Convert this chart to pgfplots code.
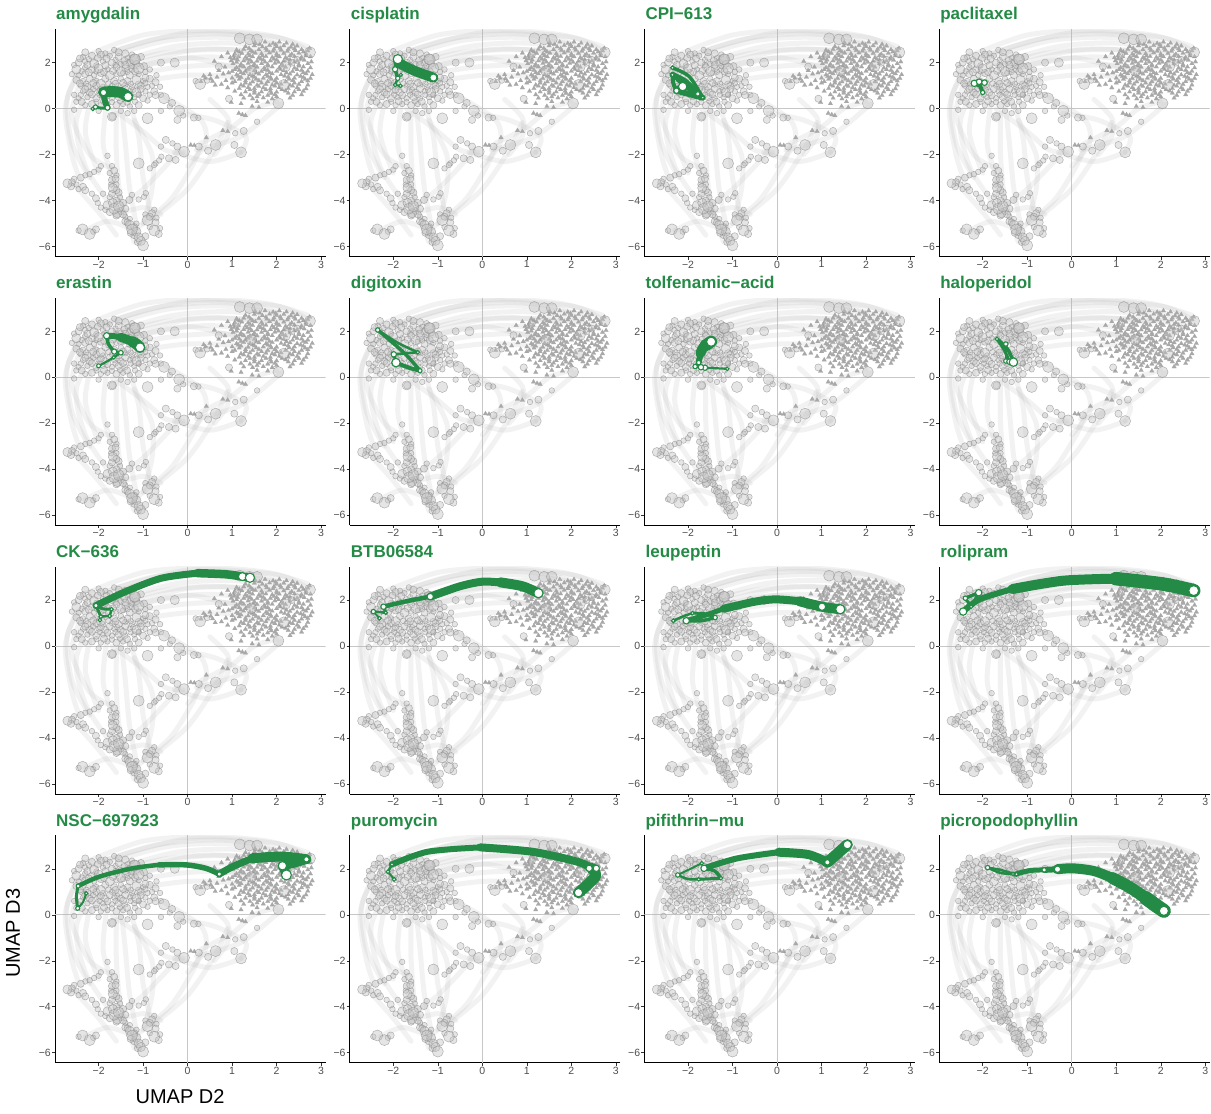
\documentclass[border=0pt]{standalone}
\usepackage{fontspec}
\setmainfont{Liberation Sans}
\usepackage{pgfplots}
\pgfplotsset{compat=1.18}
\usepackage{pgfplotstable}
\usepgfplotslibrary{groupplots}
\usetikzlibrary{calc}

\definecolor{grn}{RGB}{35,139,69}
\definecolor{ticktext}{RGB}{77,77,77}

% background cells: circles (x, y, radius)
\pgfplotstableread{
x y r
-2.35 2.25 3
-2.15 2.30 3.5
-1.95 2.35 4
-1.75 2.30 3
-1.55 2.25 3.5
-1.35 2.20 3
-1.20 2.15 5.5
-2.45 2.00 3.5
-2.30 2.05 3
-2.10 1.95 4.5
-1.90 2.05 3
-1.70 2.00 4
-1.50 1.95 3
-1.30 2.00 3.5
-1.15 1.95 4
-2.50 1.70 4.5
-2.30 1.80 3
-2.15 1.70 3.5
-2.00 1.75 5
-1.80 1.70 3
-1.60 1.80 3.5
-1.40 1.75 4
-1.25 1.70 3
-1.10 1.75 5.5
-2.45 1.45 3
-2.30 1.50 4
-2.10 1.45 3
-1.95 1.55 3.5
-1.75 1.45 4.5
-1.60 1.50 3
-1.45 1.55 3
-1.30 1.45 4
-1.10 1.50 3
-2.50 1.25 3.5
-2.35 1.20 3
-2.20 1.30 4
-2.05 1.20 3
-1.85 1.30 3.5
-1.65 1.20 4
-1.50 1.30 3
-1.35 1.20 3.5
-1.15 1.25 4.5
-1.00 1.20 3
-2.40 1.00 3
-2.25 0.95 3.5
-2.05 1.00 4
-1.90 0.95 3
-1.70 1.00 3
-1.55 0.95 4
-1.40 1.05 3
-1.25 0.95 3
-1.05 1.00 3.5
-0.90 0.95 3
-2.35 0.75 3
-2.20 0.70 3.5
-2.00 0.75 3
-1.85 0.70 4
-1.65 0.75 3
-1.50 0.70 3.5
-1.30 0.75 3
-1.15 0.70 4.5
-0.95 0.75 3
-2.45 0.45 3
-2.25 0.50 3
-2.05 0.45 3.5
-1.90 0.50 3
-1.70 0.45 3
-1.55 0.50 3.5
-1.40 0.45 3
-1.20 0.50 3
-1.00 0.45 3.5
-2.50 0.30 3
-2.30 0.15 3
-2.15 0.20 3.5
-1.95 0.15 3
-1.80 0.20 3
-1.60 0.15 3.5
-1.45 0.20 3
-1.30 0.10 3
-1.10 0.15 3.5
-2.55 -0.05 3
-2.00 -0.10 3
-1.70 -0.35 5
-1.50 -0.10 3
-1.35 -0.20 3
-1.20 -0.10 3
-2.30 2.45 4
-1.85 2.40 3
-1.40 2.40 3.5
-1.65 2.55 3
-1.05 2.25 3.5
-2.55 1.90 3
-2.60 1.50 3
-2.55 0.60 3
-0.95 1.60 3
-0.85 1.30 3.5
-0.80 1.00 3
-0.75 0.75 3.5
-0.60 0.60 3
-0.90 0.35 3
-2.42 2.18 3.5
-2.22 2.15 3
-2.02 2.20 3.5
-1.82 2.18 4
-1.62 2.12 3
-1.42 2.08 4
-2.38 1.62 3
-2.22 1.58 4
-2.05 1.62 3
-1.88 1.60 4
-1.68 1.64 3.5
-1.50 1.62 4.5
-1.35 1.60 3
-1.18 1.62 3.5
-2.42 1.10 4
-2.28 1.08 3
-2.12 1.12 3.5
-1.95 1.08 4.5
-1.78 1.10 3
-1.62 1.08 3.5
-1.45 1.12 4
-1.28 1.08 3
-1.10 1.05 4
-0.95 1.10 3
-2.30 0.85 4
-2.12 0.85 3
-1.95 0.82 3.5
-1.75 0.85 4
-1.58 0.82 3
-1.40 0.85 4
-1.22 0.82 3
-1.05 0.85 3.5
-2.40 0.60 3
-2.15 0.62 4
-1.98 0.60 3
-1.80 0.58 3.5
-1.62 0.60 3
-1.45 0.62 4
-1.28 0.60 3
-1.10 0.62 3
-2.38 0.30 3.5
-2.05 0.30 3
-1.88 0.32 4
-1.70 0.28 3
-1.52 0.32 3
-1.36 0.30 4
-1.18 0.30 3
-2.25 1.90 4
-2.05 1.88 3
-1.85 1.88 3.5
-1.62 1.90 3
-1.40 1.90 4
-1.25 1.85 3
-2.00 2.50 3
-1.55 2.45 3.5
-1.25 2.35 3
-0.98 1.85 3.5
-0.85 1.70 3
-0.70 1.45 3
-0.95 1.35 4
-0.72 1.15 3.5
-0.62 0.95 3
-0.85 0.60 3
-1.10 0.59 3
-0.90 -0.42 5.5
-0.72 0.59 3.5
-0.53 0.45 5.5
-0.40 0.10 3
-0.19 -0.09 5.5
-0.23 -0.49 4
-0.10 -0.30 3
-0.60 -0.10 3
-1.69 -0.35 4
-0.35 0.25 3.5
-1.18 2.14 5.5
-0.60 2.00 3.5
-0.29 2.00 4.5
0.28 1.07 5.5
0.18 1.20 3
0.44 1.22 3
1.17 3.06 5.5
1.39 3.01 5.5
1.56 3.01 5.5
2.75 2.45 5.5
2.19 1.83 5.5
1.43 1.64 5.5
2.16 1.03 5.5
2.04 0.23 5.5
2.34 2.00 4
0.70 1.83 4
1.11 2.33 4
2.46 2.12 4
0.93 0.43 3.5
1.56 -0.57 2.5
1.26 -0.97 4
1.07 -1.07 3
1.20 -1.90 5.5
1.05 -1.58 4
0.63 -1.58 5.5
0.46 -1.83 4
0.25 -1.65 4
0.14 -0.39 4
0.24 -0.40 3
-0.08 -1.87 5.5
-0.23 -1.65 4
-0.34 -1.51 3
-0.49 -1.36 4
-0.60 -1.65 3
-0.42 -2.16 4
-0.27 -2.23 4
-0.59 -2.09 3
-0.72 -2.38 3
-1.10 -2.38 5.5
-0.64 -2.25 3
-0.75 -2.45 3
-0.85 -2.60 3
-2.70 -3.25 5
-2.60 -3.20 4
-2.50 -3.30 3
-2.40 -3.00 3.5
-2.30 -2.90 3
-2.20 -2.85 3
-2.10 -2.75 3
-2.00 -2.65 3
-1.95 -2.50 3
-2.35 -3.40 3.5
-2.30 -3.55 3.5
-2.45 -3.50 3
-2.55 -3.05 3
-2.62 -3.38 3.5
-1.80 -2.05 2.5
-1.70 -2.50 3
-1.65 -2.70 3.5
-1.60 -2.90 3
-1.70 -3.10 3.5
-1.60 -3.30 3
-1.68 -3.45 5
-1.55 -3.65 3.5
-1.75 -3.85 3
-1.60 -4.00 4
-1.45 -4.10 3.5
-1.80 -4.20 5
-1.65 -4.35 5.5
-1.50 -4.45 4
-1.75 -4.50 4
-1.60 -4.65 3.5
-1.40 -4.70 3
-1.85 -4.40 3
-1.55 -4.25 6
-1.75 -2.80 3
-1.62 -3.05 4
-1.72 -3.30 3
-1.60 -3.55 4
-1.70 -3.70 3.5
-1.52 -3.85 3
-1.68 -4.10 4.5
-1.40 -4.35 4
-1.58 -4.55 5
-1.45 -4.60 3.5
-1.90 -3.70 3
-2.15 -3.70 3
-2.06 -3.90 4
-2.02 -4.10 3
-1.95 -4.30 3
-1.40 -4.90 4
-1.30 -5.05 4.5
-1.25 -5.25 5.5
-1.15 -5.35 5
-1.20 -5.50 4
-1.10 -5.60 5
-1.05 -5.75 4.5
-1.00 -5.95 6
-1.30 -4.80 3
-1.15 -5.00 3
-1.35 -4.95 3.5
-1.20 -5.15 4
-1.28 -5.40 4
-1.12 -5.80 3.5
-0.95 -5.55 4
-0.80 -4.55 4
-0.75 -4.40 3
-0.90 -4.85 5.5
-0.75 -5.30 5.5
-0.65 -5.45 3.5
-0.85 -5.15 3
-0.95 -4.60 3
-0.70 -4.75 3
-0.85 -4.70 3.5
-0.72 -4.95 4
-0.62 -5.20 3
-2.36 -5.25 5.5
-2.20 -5.45 5.5
-2.06 -5.25 3.5
-2.45 -5.30 3
-2.12 -5.35 3
-1.10 -3.95 3
-0.98 -3.83 2.5
-1.31 -3.97 3.5
-1.25 -3.75 3
-0.94 -3.68 3
}\bgcirc

% background cells: triangles (x, y)
\pgfplotstableread{
x y
1.52 2.86
1.74 2.90
1.92 2.84
2.06 2.90
2.22 2.85
1.30 2.70
1.50 2.74
1.68 2.69
1.84 2.75
2.00 2.70
2.16 2.74
2.32 2.68
2.46 2.73
1.10 2.55
1.26 2.58
1.42 2.53
1.60 2.57
1.78 2.54
1.94 2.59
2.10 2.55
2.26 2.58
2.42 2.53
2.56 2.57
2.70 2.52
0.90 2.42
1.06 2.38
1.22 2.41
1.36 2.37
1.52 2.42
1.66 2.39
1.84 2.43
2.00 2.38
2.16 2.41
2.34 2.37
2.50 2.42
2.66 2.38
0.76 2.26
0.96 2.22
1.14 2.27
1.30 2.23
1.46 2.26
1.60 2.22
1.76 2.27
1.90 2.23
2.06 2.26
2.20 2.22
2.40 2.27
2.56 2.23
2.76 2.26
0.60 2.06
0.98 2.08
1.12 2.12
1.26 2.08
1.40 2.11
1.56 2.07
1.70 2.12
1.86 2.08
2.00 2.11
2.16 2.07
2.30 2.12
2.46 2.08
2.62 2.11
1.02 1.96
1.20 1.93
1.36 1.97
1.50 1.93
1.66 1.96
1.80 1.92
1.96 1.97
2.12 1.93
2.30 1.96
2.50 1.92
2.70 1.96
0.84 1.81
1.10 1.78
1.26 1.82
1.40 1.78
1.56 1.81
1.72 1.77
1.90 1.82
2.06 1.78
2.20 1.81
2.40 1.77
2.60 1.82
2.76 1.78
0.70 1.66
1.00 1.62
1.16 1.67
1.30 1.63
1.50 1.66
1.66 1.62
1.80 1.67
2.00 1.63
2.16 1.66
2.36 1.62
2.56 1.67
2.70 1.63
0.50 1.48
0.80 1.51
1.10 1.47
1.26 1.52
1.40 1.48
1.60 1.51
1.76 1.47
1.90 1.52
2.10 1.48
2.30 1.51
2.46 1.47
2.66 1.52
2.80 1.48
0.40 1.33
0.66 1.37
1.00 1.33
1.20 1.36
1.36 1.32
1.50 1.37
1.70 1.33
1.86 1.36
2.00 1.32
2.26 1.37
2.40 1.33
2.60 1.36
2.76 1.32
0.30 1.18
0.56 1.19
0.86 1.22
1.06 1.18
1.30 1.21
1.46 1.17
1.60 1.22
1.80 1.18
1.96 1.21
2.20 1.17
2.36 1.22
2.56 1.18
2.70 1.21
0.76 1.06
1.00 1.12
1.20 1.03
1.40 1.07
1.56 1.02
1.76 1.06
1.90 1.03
2.10 1.07
2.30 1.02
2.50 1.06
2.70 1.03
0.90 0.91
1.16 0.88
1.36 0.92
1.50 0.88
1.70 0.91
1.86 0.87
2.06 0.92
2.26 0.88
2.46 0.91
2.66 0.87
1.06 0.76
1.30 0.73
1.50 0.77
1.66 0.73
1.86 0.76
2.00 0.72
2.20 0.77
2.40 0.73
2.60 0.76
1.20 0.61
1.40 0.58
1.60 0.62
1.80 0.58
1.96 0.61
2.36 0.58
2.56 0.61
1.26 0.46
1.46 0.43
1.70 0.47
1.90 0.43
2.30 0.46
0.98 0.27
1.20 0.22
1.56 0.31
1.80 0.28
1.45 0.10
1.60 0.05
1.15 -0.20
1.23 -0.26
1.30 -0.30
0.79 -0.95
0.90 -0.99
0.42 -1.26
0.07 -1.58
0.15 -1.60
1.62 2.80
1.98 2.78
2.36 2.80
2.74 2.62
1.38 2.62
1.76 2.62
2.08 2.63
2.40 2.61
1.16 2.47
1.46 2.46
1.92 2.50
2.24 2.50
2.60 2.47
1.04 2.30
1.40 2.31
1.68 2.30
2.00 2.30
2.30 2.30
2.66 2.30
1.04 2.17
1.34 2.16
1.64 2.16
1.94 2.16
2.24 2.15
2.54 2.16
1.10 2.02
1.44 2.03
1.74 2.03
2.04 2.02
2.40 2.03
2.78 2.04
1.18 1.86
1.48 1.86
1.80 1.86
2.14 1.86
2.50 1.86
1.06 1.70
1.36 1.71
1.74 1.70
2.08 1.71
2.46 1.70
0.92 1.56
1.20 1.57
1.54 1.57
1.84 1.57
2.22 1.56
2.60 1.57
1.14 1.41
1.46 1.42
1.80 1.41
2.18 1.42
2.54 1.41
1.16 1.28
1.54 1.29
1.88 1.29
2.28 1.29
2.64 1.28
1.30 1.12
1.66 1.12
2.00 1.12
2.40 1.12
1.26 0.98
1.60 0.97
1.96 0.98
2.36 0.98
1.40 0.83
1.76 0.83
2.12 0.83
2.50 0.83
1.50 0.68
1.88 0.67
2.26 0.68
1.56 0.52
2.00 0.52
0.36 1.42
0.52 1.30
0.62 1.02
}\bgtri

\pgfplotsset{
  zl/.style={draw=black!22, line width=0.8pt, no markers},
  arc/.style={draw=black!30, line width=5pt, draw opacity=0.17, smooth, no markers, line cap=round},
  tri/.style={only marks, mark=triangle*, mark size=2.6pt, color=black!34, line width=0.2pt},
  bub/.style={only marks, mark=*, draw=black!45, fill=black!24,
    fill opacity=0.42, draw opacity=0.65, line width=0.5pt},
  g/.style={draw=grn, no markers, smooth, line cap=round, line join=round},
  wc/.style={scatter, only marks, mark=*,
    scatter/use mapped color={draw=grn, fill=white},
    line width=1.1pt,
    visualization depends on={\thisrow{r} \as \rr},
    scatter/@pre marker code/.append style={/tikz/mark size=\rr}},
}

% shared backdrop of every panel
\newcommand{\bgpanel}{%
  \addplot[zl] coordinates {(-2.98,0) (3.1,0)};
  \addplot[zl] coordinates {(0,-6.43) (0,3.45)};
  \addplot[arc] coordinates {(-2.2,2.1) (-0.8,3.0) (0.5,3.25) (1.5,3.1) (2.4,2.6)};
  \addplot[arc] coordinates {(-1.9,2.2) (-0.5,2.95) (0.8,3.1) (2.0,2.8)};
  \addplot[arc] coordinates {(-1.6,2.0) (-0.3,2.7) (1.0,2.85) (2.2,2.5)};
  \addplot[arc] coordinates {(-1.3,1.9) (0.0,2.5) (1.2,2.55) (2.6,2.3)};
  \addplot[arc] coordinates {(-1.2,1.5) (-0.2,1.8) (0.8,1.9) (1.8,1.7)};
  \addplot[arc] coordinates {(-1.0,1.2) (0.0,1.45) (1.0,1.4) (2.0,1.1)};
  \addplot[arc] coordinates {(-2.4,2.2) (-1.0,3.2) (0.5,3.4) (1.8,3.2) (2.7,2.7)};
  \addplot[arc] coordinates {(-1.8,1.8) (-0.6,2.4) (0.6,2.6) (1.8,2.4)};
  \addplot[arc] coordinates {(-1.5,1.6) (-0.5,2.1) (0.5,2.25) (1.4,2.1)};
  \addplot[arc] coordinates {(-2.3,1.8) (-2.7,0.5) (-2.6,-1.5) (-2.2,-3.0)};
  \addplot[arc] coordinates {(-2.0,1.5) (-2.5,-0.5) (-2.3,-2.5) (-1.8,-4.0)};
  \addplot[arc] coordinates {(-2.5,1.5) (-2.75,0.0) (-2.6,-2.0) (-2.4,-3.2)};
  \addplot[arc] coordinates {(-2.1,1.0) (-2.3,-1.0) (-2.0,-2.8)};
  \addplot[arc] coordinates {(-1.8,0.5) (-1.9,-1.5) (-1.7,-3.0) (-1.6,-4.5)};
  \addplot[arc] coordinates {(-1.5,0.3) (-1.4,-1.5) (-1.3,-3.5) (-1.1,-5.5)};
  \addplot[arc] coordinates {(-1.3,0.2) (-1.1,-1.2) (-1.0,-3.0) (-0.8,-4.8)};
  \addplot[arc] coordinates {(-1.6,-0.2) (-1.6,-2.0) (-1.5,-4.0) (-1.2,-5.8)};
  \addplot[arc] coordinates {(-1.2,-0.5) (-0.8,-2.0) (-0.8,-3.5) (-1.0,-5.0)};
  \addplot[arc] coordinates {(-1.6,-4.4) (-1.0,-3.5) (-0.4,-2.3) (-0.2,-1.8)};
  \addplot[arc] coordinates {(-1.2,-5.3) (-0.4,-4.0) (0.1,-2.5) (0.3,-1.6)};
  \addplot[arc] coordinates {(-0.8,-4.8) (0.0,-3.5) (0.6,-1.8) (0.9,-0.6)};
  \addplot[arc] coordinates {(-0.3,-1.9) (0.5,-2.3) (1.2,-1.9)};
  \addplot[arc] coordinates {(0.3,-1.5) (1.0,-0.8) (1.5,0.0) (2.0,0.3)};
  \addplot[arc] coordinates {(-0.2,-0.2) (0.6,-0.5) (1.3,-1.2) (1.2,-1.9)};
  \addplot[arc] coordinates {(-0.5,0.5) (0.3,-0.5) (0.4,-1.5) (0.0,-2.5)};
  \addplot[arc] coordinates {(0.5,0.4) (0.9,-0.4) (0.9,-1.2) (0.6,-2.0)};
  \addplot[arc] coordinates {(-2.6,-3.2) (-2.0,-4.5) (-1.6,-5.5)};
  \addplot[arc] coordinates {(-2.3,-5.3) (-1.8,-4.9) (-1.3,-5.2)};
  \addplot[arc] coordinates {(-1.1,1.8) (0.0,2.2) (0.8,1.9) (1.5,1.6)};
  \addplot[arc] coordinates {(-2.4,1.2) (-2.6,-0.3) (-2.2,-2.0) (-1.7,-2.6)};
  \addplot[arc] coordinates {(-1.7,0.0) (-1.0,-1.0) (-0.5,-1.8) (-0.1,-1.9)};
  \addplot[arc] coordinates {(-2.0,2.3) (0.0,3.3) (2.0,3.1) (2.7,2.5)};
  \addplot[arc] coordinates {(0.2,-1.8) (1.2,-1.2) (2.1,0.2)};
  \addplot[arc] coordinates {(-1.6,-4.6) (-1.0,-4.3) (-0.6,-4.6)};
  \addplot[tri] table[x=x,y=y] {\bgtri};
  \addplot[bub, mark size=2.8pt, restrict expr to domain={\thisrow{r}}{0:3.2}] table[x=x,y=y] {\bgcirc};
  \addplot[bub, mark size=3.6pt, restrict expr to domain={\thisrow{r}}{3.3:4.2}] table[x=x,y=y] {\bgcirc};
  \addplot[bub, mark size=4.6pt, restrict expr to domain={\thisrow{r}}{4.3:5.2}] table[x=x,y=y] {\bgcirc};
  \addplot[bub, mark size=5.5pt, restrict expr to domain={\thisrow{r}}{5.3:7}] table[x=x,y=y] {\bgcirc};
}

\begin{document}
\begin{tikzpicture}
\begin{groupplot}[
  group style={group size=4 by 4, horizontal sep=24.1pt, vertical sep=41.5pt},
  width=270.6pt, height=227.2pt, scale only axis,
  xmin=-2.98, xmax=3.1, ymin=-6.43, ymax=3.45,
  axis x line*=bottom, axis y line*=left,
  axis line style={-, black, line width=0.6pt},
  xtick={-2,-1,0,1,2,3}, xticklabels={−2,−1,0,1,2,3},
  ytick={-6,-4,-2,0,2}, yticklabels={−6,−4,−2,0,2},
  tick align=outside, major tick length=3pt,
  tick style={black!80, line width=0.5pt},
  ticklabel style={font=\fontsize{10.5}{12}\selectfont, text=ticktext, inner sep=1pt},
  every axis title/.style={at={(0,1)}, anchor=base west, yshift=9.3pt, xshift=1pt, inner sep=0pt,
    font=\fontsize{17}{20}\selectfont\bfseries, text=grn},
  clip mode=individual,
]
% ---------------- row 1
\nextgroupplot[title={amygdalin}]
\coordinate (TL) at (rel axis cs:0,1);
\bgpanel
\addplot[g, line width=2.5pt] coordinates {(-2.13,-0.01) (-2.07,0.07)};
\addplot[g, line width=3pt] coordinates {(-2.07,0.07) (-1.94,0.02) (-1.80,0.04)};
\addplot[g, line width=6pt] coordinates {(-1.80,0.04) (-1.86,0.35) (-1.89,0.70)};
\addplot[g, line width=11pt] coordinates {(-1.89,0.72) (-1.70,0.74) (-1.50,0.70) (-1.34,0.52)};
\addplot[wc] table[row sep=\\] {x y r\\ -2.13 -0.01 1.8\\ -2.07 0.07 2.1\\ -1.80 0.04 2.5\\ -1.89 0.70 3.2\\ -1.34 0.52 4.3\\};

\nextgroupplot[title={cisplatin}]
\bgpanel
\addplot[g, line width=2pt] coordinates {(-1.84,0.99) (-1.96,1.03)};
\addplot[g, line width=2.5pt] coordinates {(-1.96,1.03) (-1.90,1.32)};
\addplot[g, line width=3.5pt] coordinates {(-1.90,1.32) (-1.96,1.71)};
\addplot[g, line width=4.5pt] coordinates {(-1.96,1.71) (-1.90,2.15)};
\addplot[g, line width=10pt] coordinates {(-1.90,2.10) (-1.83,1.94) (-1.53,1.65) (-1.10,1.35)};
\addplot[wc] table[row sep=\\] {x y r\\ -1.84 0.99 1.8\\ -1.96 1.03 1.8\\ -1.83 1.47 1.6\\ -1.90 1.32 2.2\\ -1.96 1.71 2.6\\ -1.10 1.35 3.6\\ -1.90 2.15 4.6\\};

\nextgroupplot[title={CPI−613}]
\bgpanel
\addplot[g, line width=3.5pt] coordinates {(-2.35,1.78) (-1.97,1.39) (-1.67,0.48)};
\addplot[g, line width=6pt] coordinates {(-2.35,1.47) (-2.06,1.17) (-1.78,0.64)};
\addplot[g, line width=4pt] coordinates {(-2.35,1.47) (-2.33,1.10) (-2.26,0.78)};
\addplot[g, line width=4pt] coordinates {(-2.25,1.30) (-2.05,0.95) (-1.80,0.62)};
\addplot[g, line width=6pt] coordinates {(-1.67,0.48) (-1.95,0.62) (-2.26,0.78)};
\addplot[g, line width=7pt] coordinates {(-2.26,0.78) (-2.12,0.96)};
\addplot[wc] table[row sep=\\] {x y r\\ -2.35 1.78 1.9\\ -2.35 1.47 1.9\\ -1.78 0.64 2.2\\ -1.67 0.48 1.8\\ -2.26 0.78 2.7\\ -2.12 0.96 4.2\\};

\nextgroupplot[title={paclitaxel}]
\bgpanel
\addplot[g, line width=4pt] coordinates {(-2.0,0.70) (-2.03,0.85) (-2.06,1.0)};
\addplot[g, line width=4pt] coordinates {(-2.06,1.0) (-2.19,1.10)};
\addplot[g, line width=4pt] coordinates {(-2.19,1.10) (-2.08,1.17) (-1.96,1.13)};
\addplot[wc] table[row sep=\\] {x y r\\ -2.0 0.70 2.1\\ -2.19 1.10 3.2\\ -2.08 1.17 2.8\\ -1.96 1.13 2.8\\};

% ---------------- row 2
\nextgroupplot[title={erastin}]
\bgpanel
\addplot[g, line width=2.2pt] coordinates {(-2.0,0.50) (-1.85,0.65) (-1.66,0.87)};
\addplot[g, line width=2.5pt] coordinates {(-1.66,0.87) (-1.50,1.07)};
\addplot[g, line width=3pt] coordinates {(-1.50,1.07) (-1.65,1.12)};
\addplot[g, line width=3.5pt] coordinates {(-1.65,1.12) (-1.78,1.45) (-1.82,1.81)};
\addplot[g, line width=6pt] coordinates {(-1.82,1.81) (-1.65,1.79) (-1.50,1.74)};
\addplot[g, line width=9pt] coordinates {(-1.50,1.74) (-1.38,1.66) (-1.25,1.56)};
\addplot[g, line width=11pt] coordinates {(-1.25,1.56) (-1.15,1.45) (-1.07,1.30)};
\addplot[wc] table[row sep=\\] {x y r\\ -2.0 0.50 2\\ -1.66 0.87 1.8\\ -1.50 1.07 2.3\\ -1.65 1.12 2.6\\ -1.82 1.81 3.1\\ -1.07 1.30 4.6\\};

\nextgroupplot[title={digitoxin}]
\bgpanel
\addplot[g, line width=2.5pt] coordinates {(-1.45,1.09) (-1.99,1.0)};
\addplot[g, line width=3pt] coordinates {(-1.99,1.0) (-1.94,0.64)};
\addplot[g, line width=4pt] coordinates {(-1.94,0.64) (-1.65,0.42) (-1.40,0.29)};
\addplot[g, line width=3.5pt] coordinates {(-1.40,0.29) (-1.75,1.05) (-2.35,2.06)};
\addplot[g, line width=2.5pt] coordinates {(-2.35,2.06) (-1.90,1.50) (-1.45,1.09)};
\addplot[wc] table[row sep=\\] {x y r\\ -2.35 2.06 2.2\\ -1.45 1.09 1.8\\ -1.99 1.0 2.7\\ -1.94 0.64 4.2\\ -1.40 0.29 2\\};

\nextgroupplot[title={tolfenamic−acid}]
\bgpanel
\addplot[g, line width=2.2pt] coordinates {(-1.12,0.37) (-1.40,0.40) (-1.62,0.42)};
\addplot[g, line width=3pt] coordinates {(-1.62,0.42) (-1.71,0.44) (-1.84,0.47)};
\addplot[g, line width=3.5pt] coordinates {(-1.84,0.47) (-1.76,0.64)};
\addplot[g, line width=6pt] coordinates {(-1.76,0.64) (-1.74,0.85) (-1.72,1.05)};
\addplot[g, line width=10pt] coordinates {(-1.72,1.05) (-1.66,1.30) (-1.55,1.48)};
\addplot[g, line width=12pt] coordinates {(-1.60,1.40) (-1.48,1.55)};
\addplot[wc] table[row sep=\\] {x y r\\ -1.12 0.37 1.8\\ -1.62 0.42 2.7\\ -1.71 0.44 2.7\\ -1.84 0.47 2.2\\ -1.76 0.64 2.2\\ -1.48 1.55 4.6\\};

\nextgroupplot[title={haloperidol}]
\bgpanel
\addplot[g, line width=3pt] coordinates {(-1.68,1.67) (-1.52,1.20) (-1.40,0.68)};
\addplot[g, line width=3.5pt] coordinates {(-1.68,1.67) (-1.45,1.25) (-1.31,0.70)};
\addplot[g, line width=2.5pt] coordinates {(-1.48,1.45) (-1.48,0.71)};
\addplot[wc] table[row sep=\\] {x y r\\ -1.68 1.67 1.9\\ -1.48 1.45 2.2\\ -1.48 0.71 2.2\\ -1.40 0.68 2.7\\ -1.31 0.66 4.2\\};

% ---------------- row 3
\nextgroupplot[title={CK−636}]
\bgpanel
\addplot[g, line width=2pt] coordinates {(-1.97,1.13) (-1.95,1.28)};
\addplot[g, line width=2.5pt] coordinates {(-1.95,1.28) (-1.75,1.31)};
\addplot[g, line width=2.5pt] coordinates {(-1.75,1.31) (-1.71,1.60)};
\addplot[g, line width=3pt] coordinates {(-1.71,1.60) (-1.90,1.62) (-2.06,1.76)};
\addplot[g, line width=3pt] coordinates {(-2.06,1.76) (-1.95,1.28)};
\addplot[g, line width=7pt] coordinates {(-2.06,1.76) (-1.39,2.37) (-0.59,2.95) (0.22,3.17)};
\addplot[g, line width=8.5pt] coordinates {(0.22,3.17) (0.86,3.12) (1.23,3.02) (1.40,2.97)};
\addplot[wc] table[row sep=\\] {x y r\\ -1.97 1.13 1.8\\ -1.95 1.28 1.9\\ -1.75 1.31 1.9\\ -1.71 1.60 1.9\\ -2.06 1.76 2.2\\ 1.23 3.02 4\\ 1.40 2.97 4.6\\};

\nextgroupplot[title={BTB06584}]
\bgpanel
\addplot[g, line width=2pt] coordinates {(-2.31,1.21) (-2.45,1.50)};
\addplot[g, line width=2.5pt] coordinates {(-2.45,1.50) (-2.17,1.45)};
\addplot[g, line width=3pt] coordinates {(-2.17,1.45) (-2.22,1.71)};
\addplot[g, line width=4.5pt] coordinates {(-2.22,1.71) (-1.75,1.93) (-1.17,2.15)};
\addplot[g, line width=8pt] coordinates {(-1.17,2.15) (-0.50,2.60) (0.01,2.80) (0.50,2.75)};
\addplot[g, line width=10pt] coordinates {(0.40,2.77) (0.90,2.60) (1.26,2.30)};
\addplot[wc] table[row sep=\\] {x y r\\ -2.31 1.21 1.9\\ -2.45 1.50 2.2\\ -2.17 1.45 1.8\\ -2.22 1.71 2.7\\ -1.17 2.15 3.2\\ 1.26 2.30 4.6\\};

\nextgroupplot[title={leupeptin}]
\bgpanel
\addplot[g, line width=2.5pt] coordinates {(-2.33,1.10) (-2.10,1.30) (-1.90,1.43)};
\addplot[g, line width=3pt] coordinates {(-1.90,1.43) (-1.60,1.40) (-1.39,1.24)};
\addplot[g, line width=3.5pt] coordinates {(-1.39,1.24) (-1.70,1.10) (-2.04,1.10)};
\addplot[g, line width=5pt] coordinates {(-2.04,1.10) (-1.60,1.35) (-1.20,1.62)};
\addplot[g, line width=8pt] coordinates {(-1.20,1.62) (-0.50,1.93) (-0.02,2.03) (0.60,1.93)};
\addplot[g, line width=10pt] coordinates {(0.50,1.95) (1.01,1.71) (1.42,1.60)};
\addplot[wc] table[row sep=\\] {x y r\\ -2.33 1.10 1.9\\ -1.90 1.43 1.8\\ -1.39 1.24 2.2\\ -2.04 1.10 3.2\\ 1.01 1.71 3.7\\ 1.42 1.60 4.6\\};

\nextgroupplot[title={rolipram}]
\bgpanel
\addplot[g, line width=3.5pt] coordinates {(-2.39,2.08) (-2.09,2.32)};
\addplot[g, line width=3pt] coordinates {(-2.09,2.32) (-2.26,1.71)};
\addplot[g, line width=3pt] coordinates {(-2.26,1.71) (-2.39,2.08)};
\addplot[g, line width=6pt] coordinates {(-2.44,1.50) (-2.07,2.03) (-1.33,2.48)};
\addplot[g, line width=10pt] coordinates {(-1.33,2.48) (-0.20,2.84) (0.99,2.93)};
\addplot[g, line width=13.5pt] coordinates {(0.99,2.93) (2.04,2.70) (2.74,2.41)};
\addplot[wc] table[row sep=\\] {x y r\\ -2.39 2.08 2.2\\ -2.09 2.32 3.2\\ -2.26 1.71 1.8\\ -2.44 1.50 3.7\\ 2.74 2.41 5\\};

% ---------------- row 4
\nextgroupplot[title={NSC−697923}]
\bgpanel
\addplot[g, line width=2pt] coordinates {(-2.28,0.93) (-2.35,0.55) (-2.47,0.28)};
\addplot[g, line width=3pt] coordinates {(-2.47,0.28) (-2.50,0.80) (-2.46,1.25)};
\addplot[g, line width=4.5pt] coordinates {(-2.46,1.25) (-1.98,1.66) (-1.24,2.02) (-0.64,2.17)};
\addplot[g, line width=5.5pt] coordinates {(-0.64,2.17) (-0.04,2.17) (0.41,2.02) (0.71,1.77)};
\addplot[g, line width=7pt] coordinates {(0.71,1.77) (1.01,2.09) (1.46,2.46)};
\addplot[g, line width=10pt] coordinates {(1.46,2.46) (2.13,2.53) (2.67,2.41)};
\addplot[g, line width=9pt] coordinates {(2.67,2.41) (2.40,2.25) (2.13,2.13)};
\addplot[g, line width=9pt] coordinates {(2.13,2.13) (2.22,1.73)};
\addplot[wc] table[row sep=\\] {x y r\\ -2.28 0.93 1.8\\ -2.47 0.28 2\\ -2.46 1.25 2\\ 0.71 1.77 2.2\\ 2.67 2.41 2.7\\ 2.13 2.13 4.2\\ 2.22 1.73 5\\};
\node[rotate=90, font=\fontsize{20}{24}\selectfont] at ($(rel axis cs:0,0.57)+(-42pt,0pt)$) {UMAP D3};
\node[font=\fontsize{20}{24}\selectfont] at ($(rel axis cs:0.462,0)+(0pt,-34.4pt)$) {UMAP D2};

\nextgroupplot[title={puromycin}]
\bgpanel
\addplot[g, line width=2pt] coordinates {(-1.98,1.54) (-2.12,1.87)};
\addplot[g, line width=2.5pt] coordinates {(-2.12,1.87) (-2.03,2.19)};
\addplot[g, line width=6pt] coordinates {(-2.03,2.19) (-1.23,2.74) (-0.05,2.93)};
\addplot[g, line width=8pt] coordinates {(-0.05,2.93) (1.12,2.74) (2.13,2.31) (2.46,2.02)};
\addplot[g, line width=11pt] coordinates {(2.46,2.02) (2.54,1.66) (2.16,0.96)};
\addplot[wc] table[row sep=\\] {x y r\\ -1.98 1.54 1.9\\ -2.12 1.87 1.9\\ -2.03 2.19 1.9\\ 2.40 2.02 3.2\\ 2.56 2.02 3.2\\ 2.16 0.96 4.2\\};

\nextgroupplot[title={pifithrin−mu}]
\bgpanel
\addplot[g, line width=2pt] coordinates {(-1.69,2.24) (-2.23,1.73)};
\addplot[g, line width=2.5pt] coordinates {(-2.23,1.73) (-2.00,1.55) (-1.76,1.54)};
\addplot[g, line width=3pt] coordinates {(-1.76,1.54) (-1.26,1.59)};
\addplot[g, line width=3.5pt] coordinates {(-1.26,1.59) (-1.40,1.90) (-1.64,2.02)};
\addplot[g, line width=6pt] coordinates {(-1.64,2.02) (-0.90,2.45) (0.04,2.72)};
\addplot[g, line width=9pt] coordinates {(0.04,2.72) (0.70,2.62) (1.13,2.28)};
\addplot[g, line width=11pt] coordinates {(1.13,2.28) (1.35,2.65) (1.58,3.05)};
\addplot[wc] table[row sep=\\] {x y r\\ -1.69 2.24 1.8\\ -2.23 1.73 2.2\\ -1.76 1.54 1.8\\ -1.26 1.59 1.8\\ -1.64 2.02 3.2\\ 1.13 2.28 2.7\\ 1.58 3.05 4.2\\};

\nextgroupplot[title={picropodophyllin}]
\coordinate (BR) at (rel axis cs:1,0);
\bgpanel
\addplot[g, line width=2.5pt] coordinates {(-1.89,2.05) (-1.60,1.95) (-1.27,1.76)};
\addplot[g, line width=2.5pt] coordinates {(-1.89,2.05) (-1.60,1.82) (-1.27,1.76)};
\addplot[g, line width=5pt] coordinates {(-1.27,1.76) (-0.95,1.92) (-0.62,1.95)};
\addplot[g, line width=6pt] coordinates {(-0.62,1.95) (-0.32,1.98)};
\addplot[g, line width=10pt] coordinates {(-0.32,1.98) (0.02,2.02) (0.50,1.90) (0.92,1.59)};
\addplot[g, line width=12pt] coordinates {(0.92,1.59) (1.30,1.20) (1.67,0.72)};
\addplot[g, line width=14pt] coordinates {(1.67,0.72) (1.88,0.42) (2.07,0.17)};
\addplot[wc] table[row sep=\\] {x y r\\ -1.89 2.05 2.2\\ -1.32 1.77 1.6\\ -1.24 1.76 1.9\\ -0.62 1.95 2.2\\ -0.32 1.98 3.2\\ 2.07 0.17 4.6\\};
\end{groupplot}
\pgfresetboundingbox
\path ($(TL)+(-55pt,29.3pt)$) rectangle ($(BR)+(1.3pt,-50.4pt)$);
\end{tikzpicture}
\end{document}
